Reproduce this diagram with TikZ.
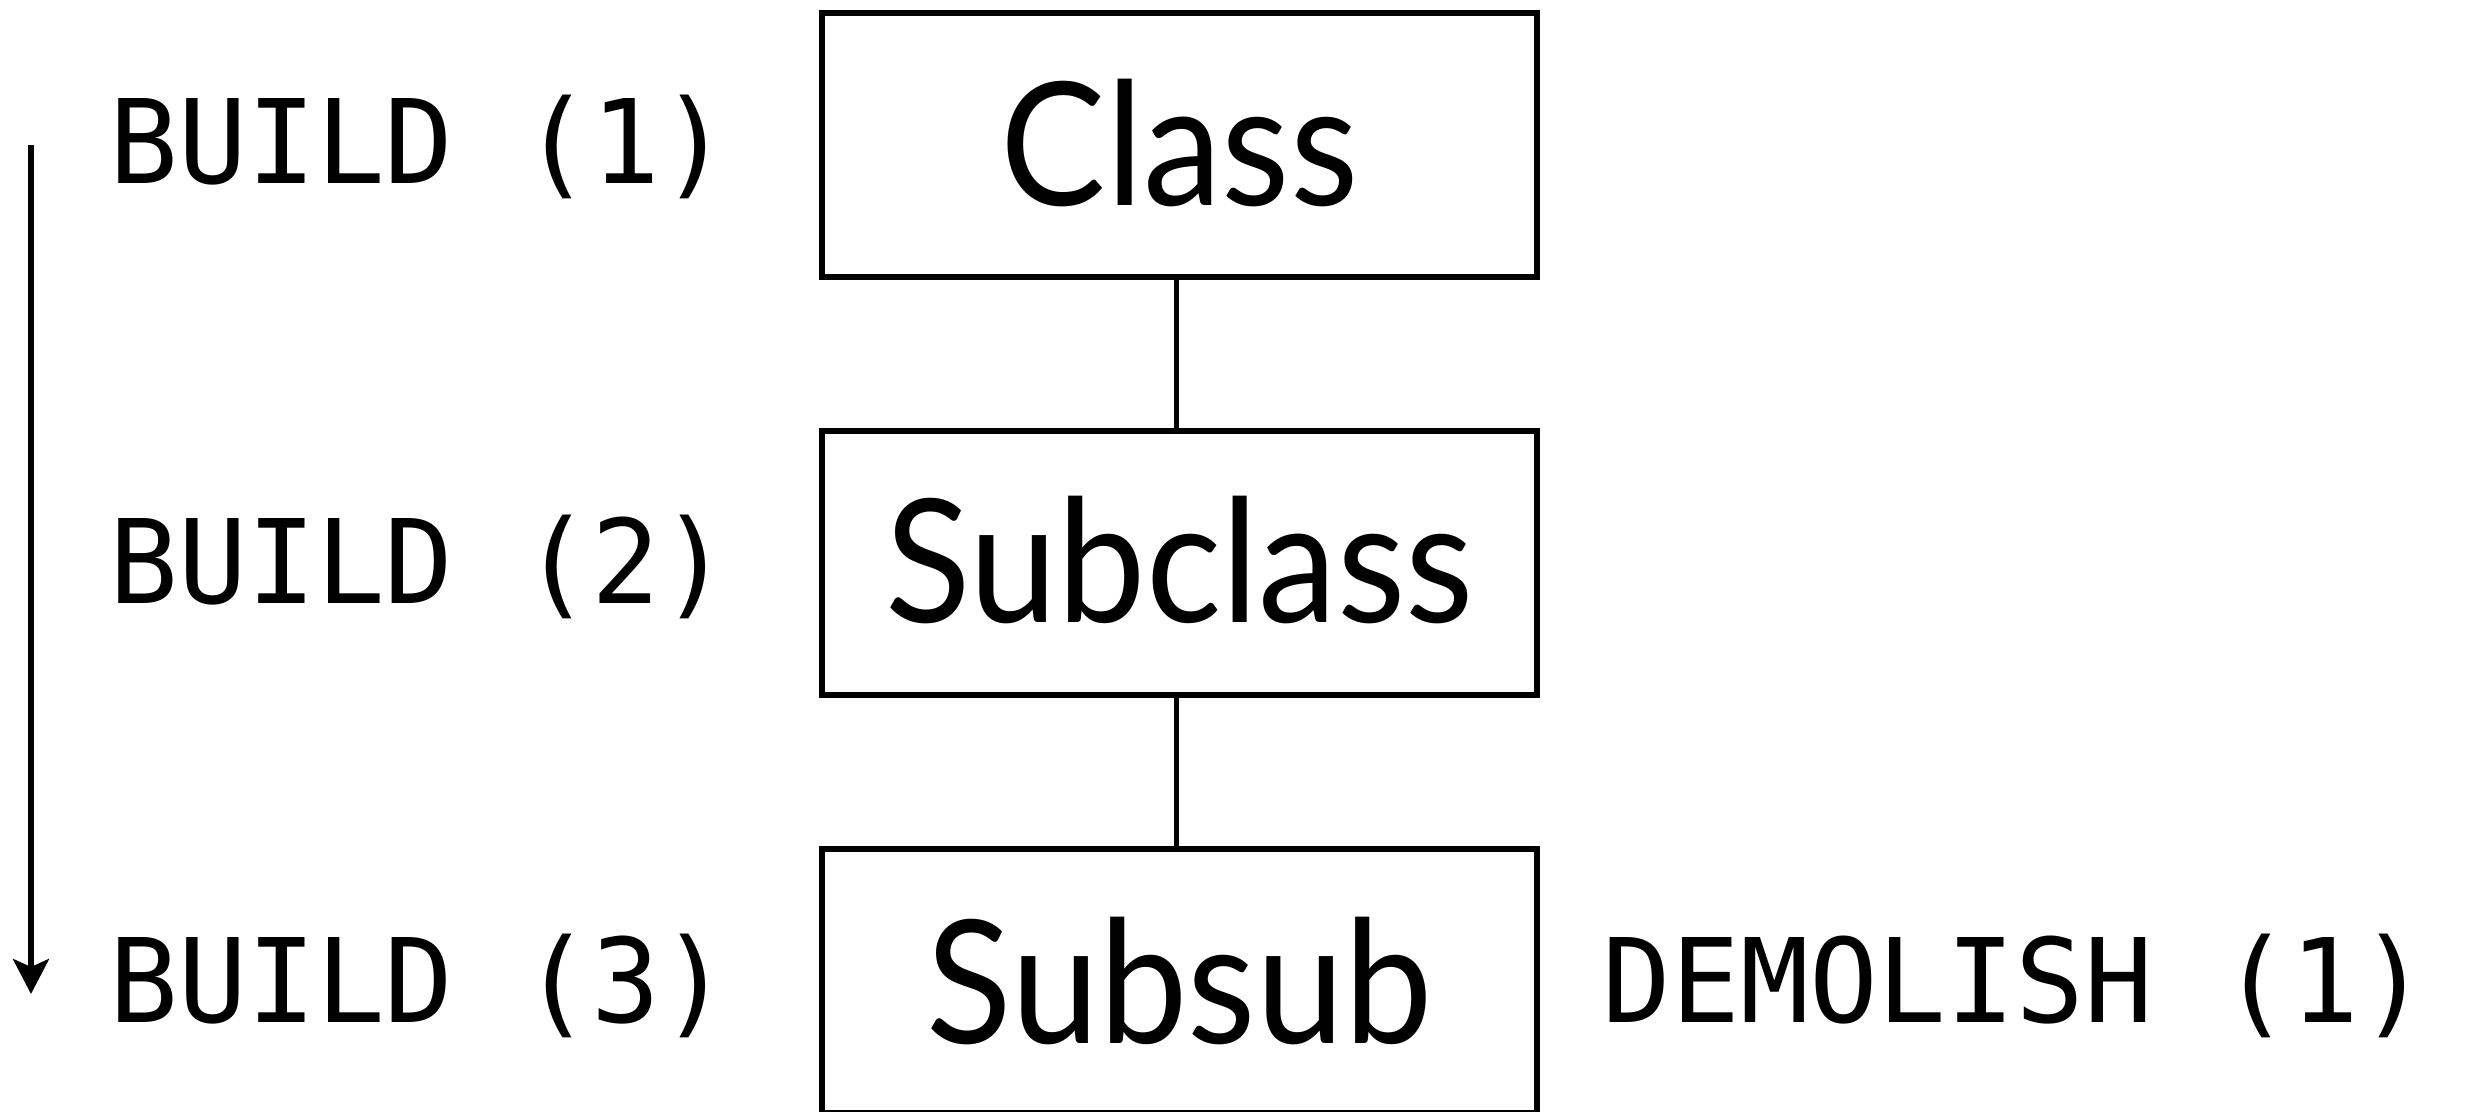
\documentclass[tikz,border=0pt]{standalone}
\usepackage{fontspec}
\usetikzlibrary{arrows.meta}
\newfontfamily\boxfont[FakeStretch=0.92]{Lato}
\newfontfamily\codefont[FakeStretch=0.98]{DejaVu Sans Mono}
\begin{document}
\begin{tikzpicture}[x=0.25pt,y=-0.25pt,
  classbox/.style={draw, line width=1.5pt, minimum width=178.75pt, minimum height=66pt, inner sep=0pt},
  boxtext/.style={inner sep=0pt, anchor=base, font=\boxfont\fontsize{42.9pt}{50pt}\selectfont},
  codetext/.style={inner sep=0pt, anchor=base west, font=\codefont\fontsize{29.15pt}{35pt}\selectfont},
  link/.style={line width=1.35pt},
  flow/.style={line width=1.4pt, -{Stealth[length=8.75pt,width=9pt,inset=2pt]}}]
\useasboundingbox (0,0) rectangle (2478,1112);
\clip (0,0) rectangle (2478,1112);
\fill[white] (0,0) rectangle (2478,1112);
\node[classbox] (c1) at (1179.5,145) {};
\node[classbox] (c2) at (1179.5,563) {};
\node[classbox] (c3) at (1179.5,981) {};
\node[boxtext] (t1) at (1179.5,206) {Class};
\node[boxtext] (t2) at (1179.5,623) {Subclass};
\node[boxtext] (t3) at (1179.5,1043) {Subsub};
\draw[link] ([xshift=-0.7pt]c1.south) -- ([xshift=-0.7pt]c2.north);
\draw[link] ([xshift=-0.7pt]c2.south) -- ([xshift=-0.7pt]c3.north);
\node[codetext] (b1) at (109,184) {BUILD (1)};
\node[codetext] (b2) at (109,603) {BUILD (2)};
\node[codetext] (b3) at (109,1022) {BUILD (3)};
\node[codetext] (d1) at (1602,1022) {DEMOLISH (1)};
\coordinate (as) at (31,145);
\coordinate (ae) at (31,994);
\draw[flow] (as) -- (ae);
\end{tikzpicture}
\end{document}
